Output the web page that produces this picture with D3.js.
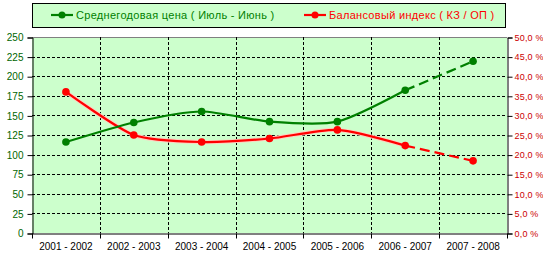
<!DOCTYPE html>
<html>
<head>
<meta charset="utf-8">
<title>Цена и балансовый индекс</title>
<script src="https://d3js.org/d3.v7.min.js"></script>
<style>
  body { margin: 0; background: #fff; }
  svg { display: block; font-family: Arial, "Liberation Sans", sans-serif; }
</style>
</head>
<body>
<div id="chart"></div>
<script>
// data
var years = ["2001 - 2002", "2002 - 2003", "2003 - 2004", "2004 - 2005", "2005 - 2006", "2006 - 2007", "2007 - 2008"];
var price = [116, 141, 155, 142, 142, 182, 219];          // left axis
var balance = [36.0, 25.0, 23.2, 24.1, 26.3, 22.3, 18.4]; // right axis, %
var leftTicks = [0, 25, 50, 75, 100, 125, 150, 175, 200, 225, 250];
var rightTicks = [0, 5, 10, 15, 20, 25, 30, 35, 40, 45, 50];

var W = 543, H = 259;
var plot = {left: 32, right: 507, top: 37, bottom: 233};

var svg = d3.select("#chart").append("svg")
  .attr("width", W).attr("height", H);

var x = d3.scaleBand().domain(years).range([plot.left, plot.right]);
var yL = d3.scaleLinear().domain([0, 250]).range([plot.bottom, plot.top]);
var yR = d3.scaleLinear().domain([0, 50]).range([plot.bottom, plot.top]);

// plot background
svg.append("rect")
  .attr("x", plot.left).attr("y", plot.top)
  .attr("width", plot.right - plot.left).attr("height", plot.bottom - plot.top)
  .attr("fill", "#ccffcc");
svg.append("line")
  .attr("x1", plot.left).attr("x2", plot.right)
  .attr("y1", plot.top + 0.5).attr("y2", plot.top + 0.5)
  .attr("stroke", "#808080");

// grid
var grid = svg.append("g").attr("stroke", "#000").attr("stroke-dasharray", "3,2");
grid.selectAll(".h").data(leftTicks.slice(1, -1)).enter().append("line")
  .attr("x1", plot.left).attr("x2", plot.right)
  .attr("y1", d => Math.round(yL(d)) + 0.5).attr("y2", d => Math.round(yL(d)) + 0.5);
grid.selectAll(".v").data(years.slice(1)).enter().append("line")
  .attr("x1", d => Math.round(x(d)) + 0.5).attr("x2", d => Math.round(x(d)) + 0.5)
  .attr("y1", plot.top).attr("y2", plot.bottom);

// axes
var axL = svg.append("g")
  .attr("transform", "translate(" + (plot.left + 0.5) + ",0.5)")
  .call(d3.axisLeft(yL).tickValues(leftTicks).tickSize(5).tickPadding(4));
axL.selectAll("text").attr("fill", "#006600").style("font-size", "10px");

var axR = svg.append("g")
  .attr("transform", "translate(" + (plot.right + 0.5) + ",0.5)")
  .call(d3.axisRight(yR).tickValues(rightTicks).tickSize(5).tickPadding(2)
    .tickFormat(d => d.toFixed(1).replace(".", ",") + " %"));
axR.selectAll("text").attr("fill", "#cc0000").style("font-size", "9px")
  .style("font-family", "'Liberation Sans Narrow', 'Arial Narrow', Arial, sans-serif")
  .style("letter-spacing", "0.2px");

var axB = svg.append("g")
  .attr("transform", "translate(0," + (plot.bottom + 0.5) + ")")
  .call(d3.axisBottom(x).tickSize(0).tickPadding(9));
axB.selectAll("text").attr("fill", "#000").style("font-size", "10px");
axB.selectAll(".tk").data(years.concat(["end"])).enter().append("line")
  .attr("x1", (d, i) => Math.round(plot.left + i * x.step()) + 0.5)
  .attr("x2", (d, i) => Math.round(plot.left + i * x.step()) + 0.5)
  .attr("y1", 0).attr("y2", 5).attr("stroke", "#000");
[axL, axR, axB].forEach(a => a.selectAll(".domain").attr("stroke", "#000"));
[axL, axR, axB].forEach(a => a.selectAll(".tick line").attr("stroke", "#000"));

// series
var cx = d => x(d) + x.bandwidth() / 2;
function series(vals, y, color, glow) {
  var pts = vals.map((v, i) => [cx(years[i]), y(v)]);
  var solid = d3.line().curve(d3.curveCardinal.tension(0.3));
  if (glow) {
    svg.append("path").attr("d", solid(pts.slice(0, 6)))
      .attr("fill", "none").attr("stroke", glow).attr("stroke-width", 4);
  }
  svg.append("path").attr("d", solid(pts.slice(0, 6)))
    .attr("fill", "none").attr("stroke", color).attr("stroke-width", 2.2);
  svg.append("path").attr("d", d3.line()(pts.slice(5)))
    .attr("fill", "none").attr("stroke", color).attr("stroke-width", 2.2)
    .attr("stroke-dasharray", "10,5");
  svg.selectAll(null).data(pts).enter().append("circle")
    .attr("cx", d => d[0]).attr("cy", d => d[1]).attr("r", 3.8)
    .attr("fill", color);
}
series(balance, yR, "#ff0000", "#ffd0c0");
series(price, yL, "#008000", null);

// legend
var lg = svg.append("g");
lg.append("rect").attr("x", 32.5).attr("y", 3.5).attr("width", 473).attr("height", 24)
  .attr("fill", "#ccffcc").attr("stroke", "#000");
var items = [
  {name: "Среднегодовая цена ( Июль - Июнь )", color: "#008000", x: 51},
  {name: "Балансовый индекс ( КЗ / ОП )", color: "#ff0000", x: 304}
];
items.forEach(function (it) {
  lg.append("line").attr("x1", it.x).attr("x2", it.x + 22).attr("y1", 15).attr("y2", 15)
    .attr("stroke", it.color).attr("stroke-width", 2.2);
  lg.append("circle").attr("cx", it.x + 11).attr("cy", 15).attr("r", 3.5).attr("fill", it.color);
  lg.append("text").attr("x", it.x + 25).attr("y", 19).text(it.name)
    .attr("fill", it.color).style("font-size", "11px").style("letter-spacing", "0.3px");
});
</script>
</body>
</html>
